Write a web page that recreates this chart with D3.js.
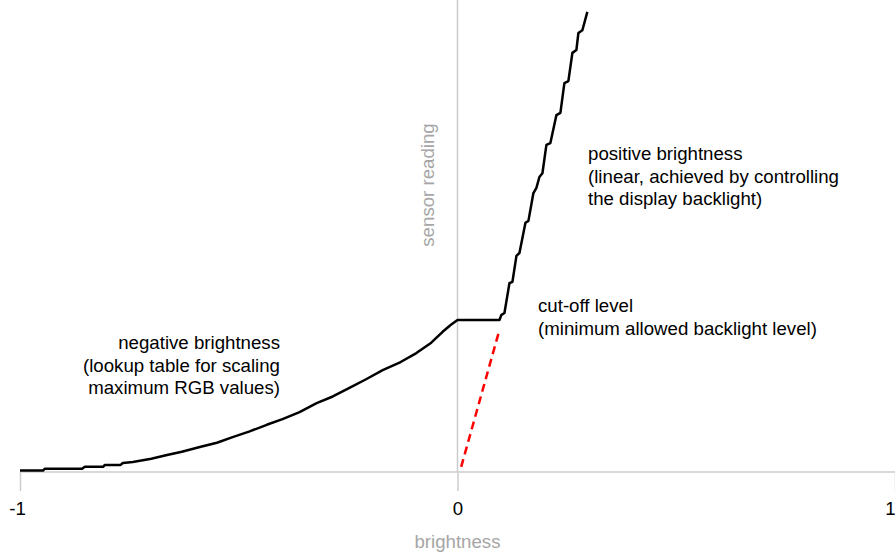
<!DOCTYPE html>
<html><head><meta charset="utf-8">
<script src="https://cdn.jsdelivr.net/npm/d3@7"></script>
<style>html,body{margin:0;padding:0;background:#fff;}svg{display:block;font-family:"Liberation Sans",Arial,sans-serif;}</style>
</head><body><svg id="c" width="895" height="552"></svg>
<script>
// brightness (x) vs sensor reading (y), negative part: lookup table
const negX = [-1, -0.9475, -0.943, -0.858, -0.852, -0.81, -0.806, -0.77, -0.765, -0.742, -0.70, -0.664, -0.63, -0.589, -0.55, -0.514, -0.475, -0.436, -0.40, -0.361, -0.322, -0.285, -0.247, -0.21, -0.171, -0.13, -0.094, -0.06, -0.034, -0.015, 0];
const negY = [0.003, 0.003, 0.007, 0.007, 0.011, 0.011, 0.015, 0.015, 0.019, 0.021, 0.028, 0.036, 0.043, 0.053, 0.062, 0.074, 0.086, 0.100, 0.112, 0.127, 0.146, 0.160, 0.178, 0.196, 0.216, 0.233, 0.252, 0.274, 0.297, 0.312, 0.322];
// cut-off plateau + positive part (backlight, stepped)
const posX = [0, 0.0959, 0.1005, 0.1073, 0.1187, 0.1256, 0.1347, 0.1416, 0.1553, 0.1621, 0.1735, 0.1804, 0.1872, 0.1941, 0.2032, 0.2123, 0.2260, 0.2352, 0.2443, 0.2534, 0.2626, 0.2717, 0.2763, 0.2854, 0.2968];
const posY = [0.322, 0.322, 0.333, 0.337, 0.400, 0.403, 0.458, 0.464, 0.528, 0.532, 0.591, 0.602, 0.625, 0.633, 0.693, 0.697, 0.756, 0.761, 0.824, 0.828, 0.888, 0.894, 0.930, 0.936, 0.975];
// linear extrapolation below cut-off
const dashX = [0.0084, 0.0959];
const dashY = [0.011, 0.301];
const xTicks = [-1, 0, 1];
const xTickLabels = ["-1", "0", "1"];
const xTitle = "brightness";
const yTitle = "sensor reading";
const notePos = ["positive brightness", "(linear, achieved by controlling", "the display backlight)"];
const noteCut = ["cut-off level", "(minimum allowed backlight level)"];
const noteNeg = ["negative brightness", "(lookup table for scaling", "maximum RGB values)"];

const FS = 18.67;
const svg = d3.select("#c");
const x = d3.scaleLinear().domain([-1, 1]).range([20, 895]);
const y = d3.scaleLinear().domain([0, 1]).range([472, 0]);
const grey = "#cccccc";

// x axis
const xAxis = d3.axisBottom(x).tickValues(xTicks).tickSize(19).tickFormat((d, i) => xTickLabels[i]);
const ga = svg.append("g").attr("transform", `translate(0,${y(0)})`).call(xAxis);
ga.select(".domain").attr("stroke", grey).attr("stroke-width", 1.5).attr("d", `M${x(-1)},0H${x(1)}`);
ga.selectAll(".tick line").attr("stroke", grey).attr("stroke-width", 1.5);
ga.selectAll(".tick text").attr("fill", "#000").attr("font-size", FS).attr("font-family", "Liberation Sans, Arial, sans-serif").attr("dy", null).attr("y", 43)
  .attr("dx", d => d === -1 ? -3 : (d === 1 ? -5 : 0));

// vertical axis at 0
svg.append("line").attr("x1", x(0)).attr("x2", x(0)).attr("y1", 0).attr("y2", y(0)).attr("stroke", grey).attr("stroke-width", 1.5);

// titles
svg.append("text").attr("x", x(0)).attr("y", 548).attr("text-anchor", "middle").attr("fill", "#a6a6a6").attr("font-size", FS).text(xTitle);
svg.append("text").attr("transform", `translate(${x(0) - 24},185) rotate(-90)`).attr("text-anchor", "middle").attr("fill", "#a6a6a6").attr("font-size", FS).text(yTitle);

// lines
const line = d3.line().x(d => x(d[0])).y(d => y(d[1]));
const negData = negX.map((v, i) => [v, negY[i]]);
const posData = posX.map((v, i) => [v, posY[i]]);
svg.append("path").datum(dashX.map((v, i) => [v, dashY[i]])).attr("d", line).attr("fill", "none").attr("stroke", "#ff0000").attr("stroke-width", 2.5).attr("stroke-dasharray", "8,5");
svg.append("path").datum(negData.concat(posData.slice(1))).attr("d", line).attr("fill", "none").attr("stroke", "#000").attr("stroke-width", 2.5).attr("stroke-linejoin", "round");

// notes
function note(lines, px, py, anchor) {
  const t = svg.append("text").attr("font-size", FS).attr("fill", "#000").attr("text-anchor", anchor);
  lines.forEach((s, i) => t.append("tspan").attr("x", px).attr("y", py + i * 22.5).text(s));
}
note(notePos, 588, 160, "start");
note(noteCut, 538, 312, "start");
note(noteNeg, 280, 349, "end");
</script></body></html>
